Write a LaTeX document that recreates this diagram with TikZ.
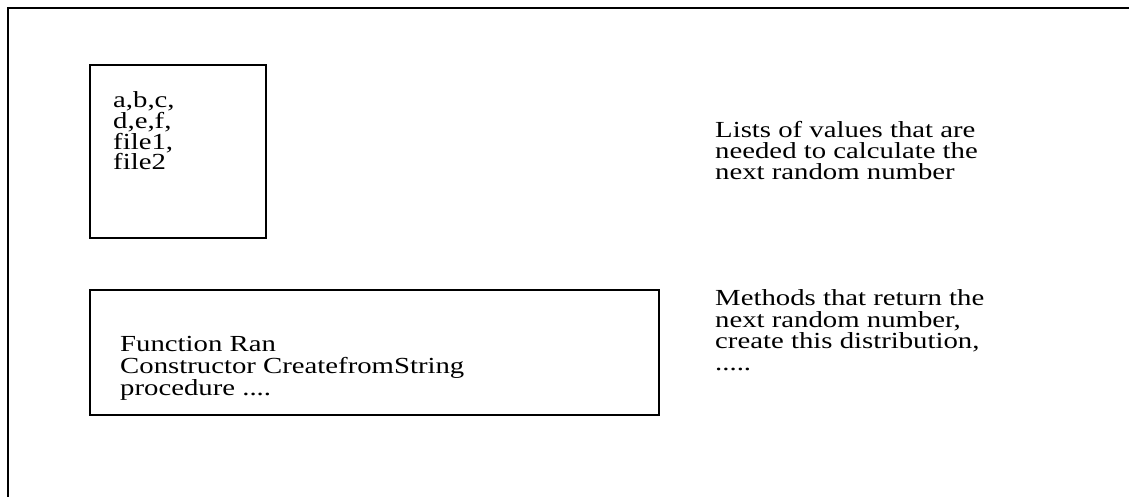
\documentclass[tikz,border=0pt]{standalone}
\usepackage{fontspec}
\setmainfont{Liberation Serif}[FakeStretch=1.25]
\begin{document}
\begin{tikzpicture}[x=1pt,y=-1pt,
  frame/.style={draw=black,line width=2pt},
  panel/.style={draw=black,line width=2pt,inner sep=0pt,anchor=north west},
  txt/.style={inner sep=0pt,anchor=base west,align=left,
    font=\fontsize{23}{20.8}\selectfont}]
  \useasboundingbox (0,0) rectangle (1129,497);
  % open outer frame: top and left edges only
  \draw[frame] (8,497) -- (8,8) -- (1129,8);
  % data panel (text anchored at the baseline of its last line)
  \node[panel,minimum width=176pt,minimum height=173pt] (data) at (89,64) {};
  \node[txt] (datatext) at (113,170) {a,b,c,\\d,e,f,\\file1,\\file2};
  % methods panel
  \node[panel,minimum width=569pt,minimum height=125pt] (methods) at (89,289) {};
  \node[txt,font=\fontsize{23}{22}\selectfont] (methodtext) at (120,395) {Function Ran\\Constructor CreatefromString\\procedure ....};
  % explanations
  \node[txt,font=\fontsize{23}{21.5}\selectfont] (datanote) at (715,180) {Lists of values that are\\needed to calculate the\\next random number};
  \node[txt,font=\fontsize{23}{21.5}\selectfont] (methodnote) at (715,370) {Methods that return the\\next random number,\\create this distribution,\\.....};
\end{tikzpicture}
\end{document}
